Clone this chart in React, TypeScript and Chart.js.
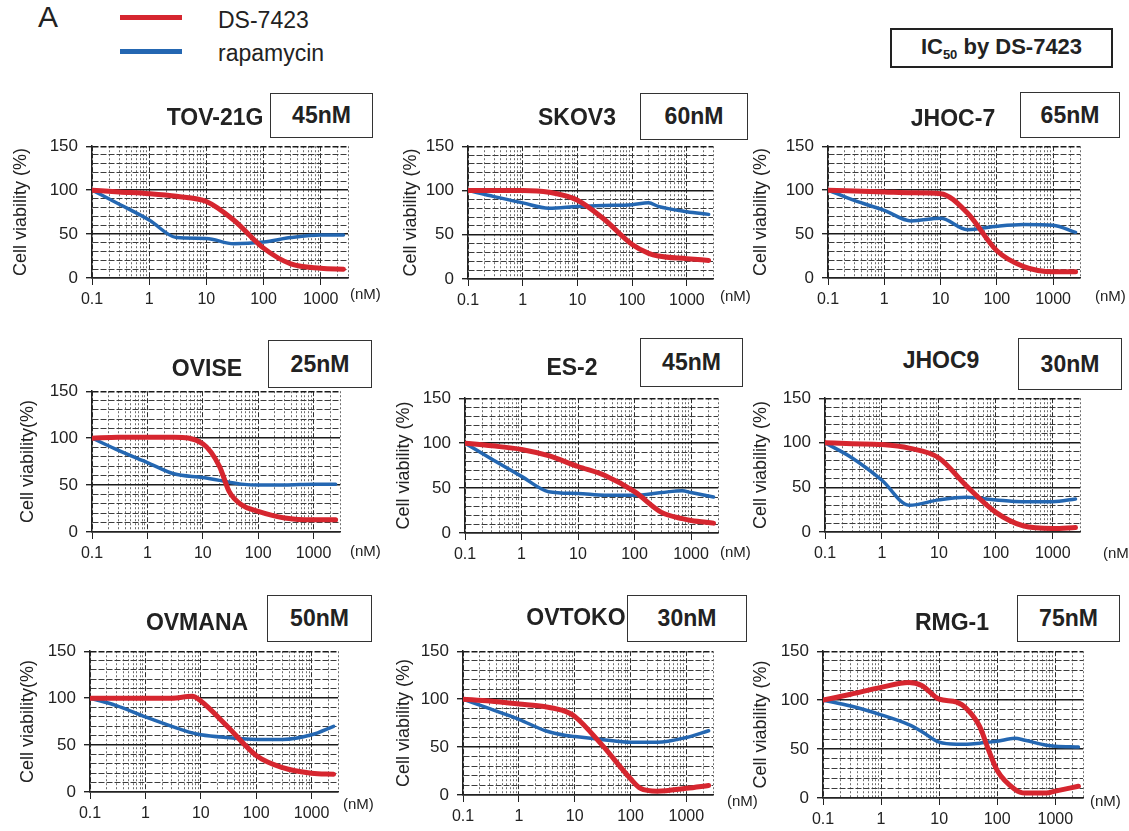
import React, { useEffect, useRef } from 'react';
import { Chart, registerables } from 'chart.js';

Chart.register(...registerables);

const FONT = "'Liberation Sans', Arial, Helvetica, sans-serif";
const RED = '#d6262f';
const BLUE = '#2467b2';
const INK = '#222222';

// ---- axis definitions ----
const X_MIN = 0.1;
const X_MAX = 3000;
const X_DECADES = [0.1, 1, 10, 100, 1000];
const X_DECADE_LABELS = ['0.1', '1', '10', '100', '1000'];
const Y_MIN = 0;
const Y_MAX = 150;
const Y_MAJOR = [0, 50, 100, 150];
const Y_MAJOR_LABELS = ['0', '50', '100', '150'];
const Y_STEP = 10;

const SERIES_NAMES = ['DS-7423', 'rapamycin'];

// ---- data (cell viability %, dose in nM) ----
const tovDose = [0.1, 0.3, 1, 3, 10, 30, 100, 300, 1000, 2500];
const tovDS = [100, 98, 96, 93, 87, 66, 34, 16, 11, 10];
const tovRapa = [100, 84, 66, 46, 45, 39, 41, 46, 49, 49];

const skovDose = [0.1, 0.3, 1, 3, 10, 30, 100, 200, 300, 1000, 2500];
const skovDS = [100, 100, 100, 98, 89, 68, 39, 29, 26, 23, 21];
const skovRapa = [100, 93, 86, 80, 82, 83, 84, 86, 82, 76, 73];

const jhoc7Dose = [0.1, 0.3, 1, 3, 10, 30, 100, 300, 1000, 2500];
const jhoc7DS = [100, 99, 98, 97, 96, 74, 31, 13, 7, 7];
const jhoc7Rapa = [100, 88, 77, 65, 68, 55, 59, 61, 60, 52];

const oviseDose = [0.1, 0.3, 1, 3, 10, 20, 30, 50, 100, 300, 1000, 2500];
const oviseDS = [100, 101, 101, 101, 94, 70, 43, 29, 22, 15, 13, 13];
const oviseRapa = [100, 87, 74, 62, 58, 55, 53, 51, 50, 50, 51, 51];

const es2Dose = [0.1, 0.3, 1, 3, 10, 30, 100, 300, 700, 1000, 2500];
const es2DS = [100, 97, 93, 86, 74, 64, 46, 23, 16, 14, 11];
const es2Rapa = [100, 82, 63, 46, 44, 42, 42, 45, 47, 45, 40];

const jhoc9Dose = [0.1, 0.3, 1, 3, 10, 30, 100, 300, 1000, 2500];
const jhoc9DS = [100, 99, 98, 94, 83, 52, 22, 7, 4, 5];
const jhoc9Rapa = [100, 83, 58, 30, 36, 39, 36, 34, 34, 37];

const ovmanaDose = [0.1, 0.3, 1, 3, 7, 10, 30, 100, 300, 1000, 2500];
const ovmanaDS = [100, 100, 100, 100, 102, 97, 70, 39, 26, 20, 19];
const ovmanaRapa = [100, 92, 80, 70, 63, 61, 58, 56, 56, 61, 70];

const ovtokoDose = [0.1, 0.3, 1, 3, 7, 10, 30, 100, 150, 300, 1000, 2500];
const ovtokoDS = [100, 98, 95, 92, 87, 82, 53, 17, 7, 4, 7, 10];
const ovtokoRapa = [100, 90, 79, 67, 62, 61, 58, 55, 55, 55, 60, 67];

const rmgDose = [0.1, 0.3, 1, 3, 5, 10, 20, 30, 50, 70, 100, 200, 300, 700, 1000, 2500];
const rmgDS = [100, 106, 113, 118, 115, 101, 98, 91, 73, 50, 28, 9, 5, 5, 7, 12];
const rmgRapa = [100, 94, 85, 75, 68, 57, 55, 55, 56, 57, 58, 61, 59, 54, 53, 52];

const CELL_LINES = ['TOV-21G', 'SKOV3', 'JHOC-7', 'OVISE', 'ES-2', 'JHOC9', 'OVMANA', 'OVTOKO', 'RMG-1'];
const IC50_LABELS = ['45nM', '60nM', '65nM', '25nM', '45nM', '30nM', '50nM', '30nM', '75nM'];
const Y_TITLES = [
  'Cell viability (%)', 'Cell viability (%)', 'Cell viability (%)',
  'Cell viability(%)', 'Cell viability (%)', 'Cell viability (%)',
  'Cell viability(%)', 'Cell viability (%)', 'Cell viability (%)',
];
const DOSES = [tovDose, skovDose, jhoc7Dose, oviseDose, es2Dose, jhoc9Dose, ovmanaDose, ovtokoDose, rmgDose];
const DS_VALUES = [tovDS, skovDS, jhoc7DS, oviseDS, es2DS, jhoc9DS, ovmanaDS, ovtokoDS, rmgDS];
const RAPA_VALUES = [tovRapa, skovRapa, jhoc7Rapa, oviseRapa, es2Rapa, jhoc9Rapa, ovmanaRapa, ovtokoRapa, rmgRapa];

// ---- layout (pixel geometry of each panel) ----
type Layout = {
  L: number; T: number; R: number; B: number; TX: number;
  tcx: number; tcy: number;
  box: [number, number, number, number];
  nm: [number, number];
};
const LAYOUT: Layout[] = [
  { L: 92, T: 140, R: 348, B: 278, TX: 20, tcx: 215, tcy: 117, box: [270, 93, 373, 138], nm: [350, 293] },
  { L: 468, T: 140, R: 713, B: 279, TX: 410, tcx: 577, tcy: 117, box: [640, 93, 748, 140], nm: [720, 295] },
  { L: 828, T: 140, R: 1080, B: 278, TX: 760, tcx: 953, tcy: 118, box: [1020, 92, 1120, 138], nm: [1095, 295] },
  { L: 92, T: 385, R: 340, B: 532, TX: 27, tcx: 207, tcy: 368, box: [268, 340, 372, 388], nm: [350, 550] },
  { L: 465, T: 392, R: 718, B: 533, TX: 403, tcx: 572, tcy: 367, box: [640, 338, 743, 387], nm: [720, 551] },
  { L: 825, T: 392, R: 1080, B: 532, TX: 760, tcx: 941, tcy: 360, box: [1018, 338, 1122, 390], nm: [1103, 552] },
  { L: 90, T: 645, R: 338, B: 792, TX: 27, tcx: 197, tcy: 622, box: [267, 595, 372, 642], nm: [343, 803] },
  { L: 463, T: 645, R: 713, B: 795, TX: 403, tcx: 576, tcy: 617, box: [627, 595, 747, 642], nm: [727, 800] },
  { L: 823, T: 645, R: 1083, B: 798, TX: 760, tcx: 952, tcy: 622, box: [1017, 595, 1120, 642], nm: [1090, 800] },
];

const X_GRID: number[] = [];
X_DECADES.forEach((d) => {
  for (let m = 1; m <= 9; m++) {
    const v = Math.round(d * m * 1000) / 1000;
    if (v <= X_MAX) X_GRID.push(v);
  }
});
const Y_GRID: number[] = [];
for (let v = Y_MIN; v <= Y_MAX; v += Y_STEP) Y_GRID.push(v);

const decadeIndex = (v: number | undefined) =>
  v === undefined ? -1 : X_DECADES.findIndex((d) => Math.abs(d - v) / d < 1e-6);
const yMajorIndex = (v: number | undefined) => (v === undefined ? -1 : Y_MAJOR.indexOf(v));

function Panel({ idx }: { idx: number }) {
  const ref = useRef<HTMLCanvasElement>(null);
  const g = LAYOUT[idx];
  const left = g.TX - 10;
  const top = g.T - 12;
  const width = g.R + 45 - left;
  const height = g.B + 38 - top;

  useEffect(() => {
    if (!ref.current) return;
    const dose = DOSES[idx];
    const chart = new Chart(ref.current, {
      type: 'line',
      data: {
        datasets: [
          {
            label: SERIES_NAMES[0],
            data: dose.map((x, i) => ({ x, y: DS_VALUES[idx][i] })),
            borderColor: RED,
            borderWidth: 5,
            pointRadius: 0,
            cubicInterpolationMode: 'monotone',
            fill: false,
            borderCapStyle: 'round',
          },
          {
            label: SERIES_NAMES[1],
            data: dose.map((x, i) => ({ x, y: RAPA_VALUES[idx][i] })),
            borderColor: BLUE,
            borderWidth: 3.5,
            pointRadius: 0,
            cubicInterpolationMode: 'monotone',
            fill: false,
            borderCapStyle: 'round',
          },
        ],
      },
      options: {
        animation: false,
        responsive: false,
        maintainAspectRatio: false,
        events: [],
        layout: { padding: { top: 12, right: 45, left: 0, bottom: 0 } },
        plugins: { legend: { display: false }, tooltip: { enabled: false } },
        scales: {
          x: {
            type: 'logarithmic',
            min: X_MIN,
            max: X_MAX,
            afterBuildTicks: (s: any) => {
              s.ticks = X_GRID.map((v) => ({ value: v }));
            },
            afterFit: (s: any) => {
              s.height = 38;
            },
            ticks: {
              autoSkip: false,
              maxRotation: 0,
              minRotation: 0,
              padding: 5,
              color: INK,
              font: { family: FONT, size: 16 },
              callback: (v: any) => {
                const k = decadeIndex(Number(v));
                return k >= 0 ? X_DECADE_LABELS[k] : '';
              },
            },
            grid: {
              color: (c: any) => (decadeIndex(c.tick?.value) >= 0 ? '#2e2e2e' : '#6e6e6e'),
              lineWidth: 1,
              tickLength: 7,
              tickColor: (c: any) => (decadeIndex(c.tick?.value) >= 0 ? INK : 'rgba(0,0,0,0)'),
            },
            border: {
              display: true,
              color: INK,
              width: 1.5,
              dash: (c: any) => (decadeIndex(c.tick?.value) >= 0 ? [5, 2] : [2, 2]),
            },
          },
          y: {
            type: 'linear',
            min: Y_MIN,
            max: Y_MAX,
            afterBuildTicks: (s: any) => {
              s.ticks = Y_GRID.map((v) => ({ value: v }));
            },
            afterFit: (s: any) => {
              s.width = g.L - left;
            },
            ticks: {
              autoSkip: false,
              padding: 8,
              color: INK,
              font: { family: FONT, size: 17 },
              callback: (v: any) => {
                const k = yMajorIndex(Number(v));
                return k >= 0 ? Y_MAJOR_LABELS[k] : '';
              },
            },
            grid: {
              color: (c: any) => (yMajorIndex(c.tick?.value) >= 0 ? '#1a1a1a' : '#3c3c3c'),
              lineWidth: (c: any) => (yMajorIndex(c.tick?.value) >= 0 ? 1.4 : 1),
              tickLength: 6,
              tickColor: (c: any) => (yMajorIndex(c.tick?.value) >= 0 ? INK : 'rgba(0,0,0,0)'),
            },
            border: {
              display: true,
              color: INK,
              width: 1.5,
              dash: (c: any) => {
                const v = c.tick?.value;
                return yMajorIndex(v) >= 0 && v !== Y_MAX ? [] : [6, 2];
              },
            },
            title: {
              display: true,
              text: Y_TITLES[idx],
              color: INK,
              font: { family: FONT, size: 18 },
              padding: { top: 0, bottom: 0 },
            },
          },
        },
      },
    } as any);
    return () => chart.destroy();
  }, [idx]);

  const [bl, bt, br, bb] = g.box;
  return (
    <>
      <canvas
        ref={ref}
        width={width}
        height={height}
        style={{ position: 'absolute', left, top, width, height }}
      />
      <div
        style={{
          position: 'absolute',
          left: g.tcx,
          top: g.tcy,
          transform: 'translate(-50%, -50%)',
          fontFamily: FONT,
          fontWeight: 'bold',
          fontSize: 23,
          color: INK,
          whiteSpace: 'nowrap',
          lineHeight: 1,
        }}
      >
        {CELL_LINES[idx]}
      </div>
      <div
        style={{
          position: 'absolute',
          left: bl,
          top: bt,
          width: br - bl,
          height: bb - bt,
          boxSizing: 'border-box',
          border: '1.5px solid #333',
          display: 'flex',
          alignItems: 'center',
          justifyContent: 'center',
          fontFamily: FONT,
          fontWeight: 'bold',
          fontSize: 23,
          color: INK,
          background: '#fff',
        }}
      >
        {IC50_LABELS[idx]}
      </div>
      <div
        style={{
          position: 'absolute',
          left: g.nm[0],
          top: g.nm[1],
          transform: 'translateY(-50%)',
          fontFamily: FONT,
          fontSize: 15,
          color: INK,
          whiteSpace: 'nowrap',
          lineHeight: 1,
        }}
      >
        (nM)
      </div>
    </>
  );
}

export default function App() {
  return (
    <div
      style={{
        position: 'absolute',
        left: 0,
        top: 0,
        width: 1129,
        height: 831,
        background: '#fff',
        overflow: 'hidden',
        fontFamily: FONT,
      }}
    >
      <div style={{ position: 'absolute', left: 38, top: 2, fontSize: 30, color: INK, fontFamily: FONT, lineHeight: 1 }}>A</div>
      <div style={{ position: 'absolute', left: 120, top: 15, width: 62, height: 5, background: RED }} />
      <div style={{ position: 'absolute', left: 120, top: 49, width: 62, height: 5, background: BLUE }} />
      <div style={{ position: 'absolute', left: 218, top: 20, transform: 'translateY(-50%)', fontSize: 23, color: INK, fontFamily: FONT, lineHeight: 1 }}>
        {SERIES_NAMES[0]}
      </div>
      <div style={{ position: 'absolute', left: 218, top: 53, transform: 'translateY(-50%)', fontSize: 23, color: INK, fontFamily: FONT, lineHeight: 1 }}>
        {SERIES_NAMES[1]}
      </div>
      <div
        style={{
          position: 'absolute',
          left: 890,
          top: 28,
          width: 223,
          height: 40,
          boxSizing: 'border-box',
          border: '2px solid #222',
          display: 'flex',
          alignItems: 'center',
          justifyContent: 'center',
          fontFamily: FONT,
          fontWeight: 'bold',
          fontSize: 22,
          color: INK,
          whiteSpace: 'nowrap',
        }}
      >
        <span>
          IC<sub style={{ fontSize: 13, verticalAlign: -5 }}>50</sub> by DS-7423
        </span>
      </div>
      {CELL_LINES.map((_, i) => (
        <Panel key={i} idx={i} />
      ))}
    </div>
  );
}
